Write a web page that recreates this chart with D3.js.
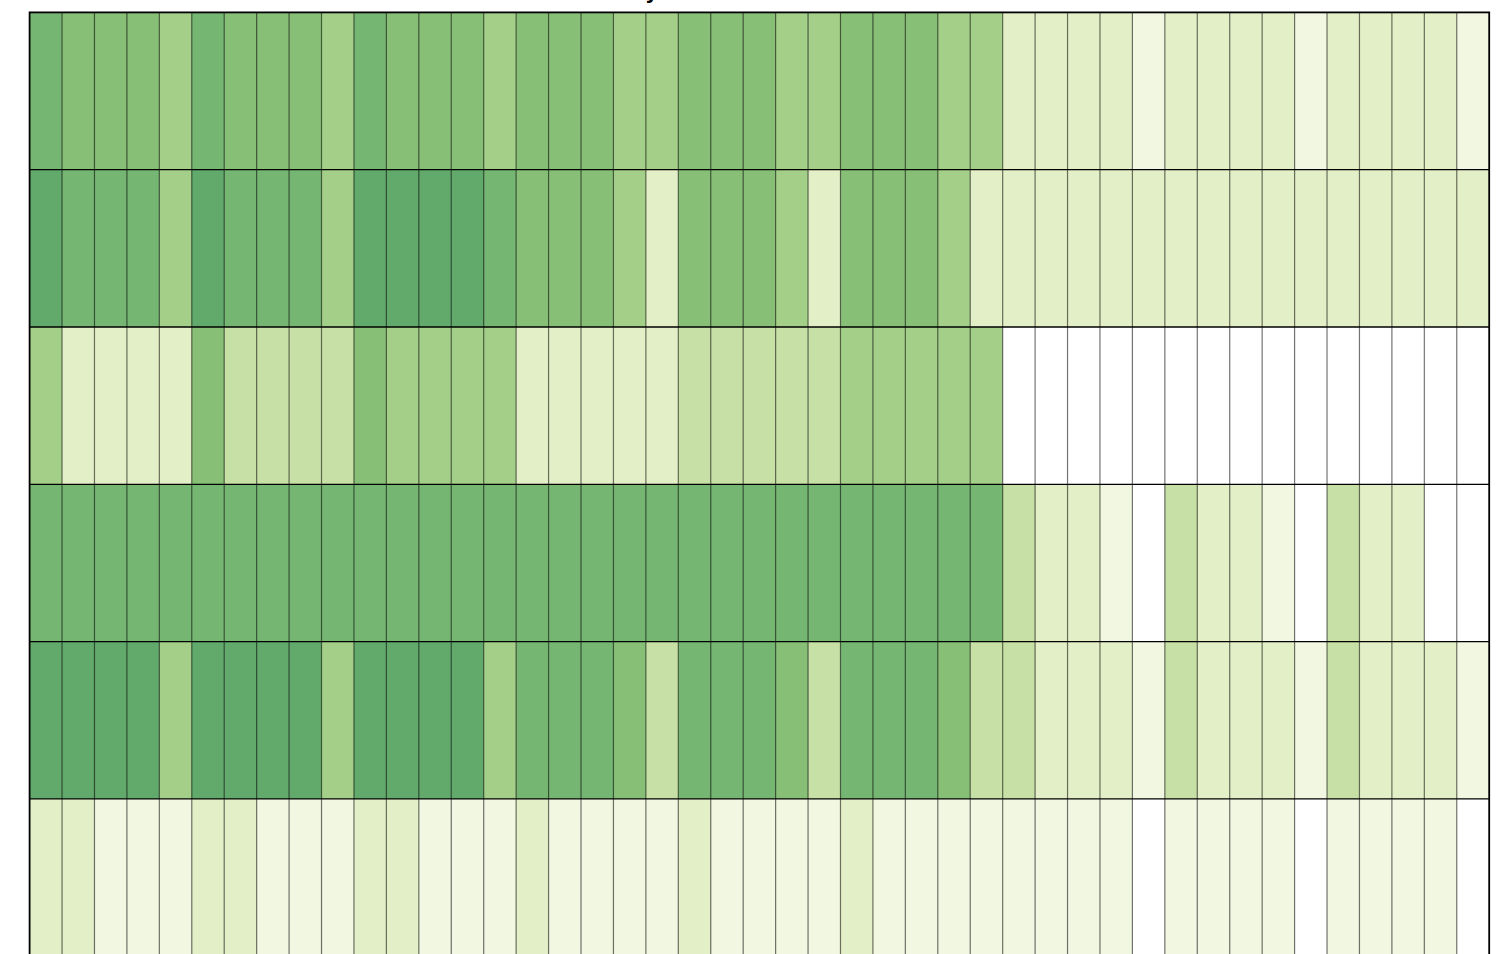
<!DOCTYPE html>
<html>
<head>
<meta charset="utf-8">
<script src="https://cdn.jsdelivr.net/npm/d3@7"></script>
<style>
  html, body { margin: 0; padding: 0; background: #fff; overflow: hidden; }
  svg { display: block; }
</style>
</head>
<body>
<svg width="1496" height="954"></svg>
<script>

const title = 'Daily Score Matrix for All Teams'

const rowNames = ['R1', 'R2', 'R3', 'R4', 'R5', 'R6']

// score level of every cell, one array per row, 45 columns each
const row1 = [6,5,5,5,4, 6,5,5,5,4, 6,5,5,5,4, 5,5,5,4,4, 5,5,5,4,4, 5,5,5,4,4, 2,2,2,2,1, 2,2,2,2,1, 2,2,2,2,1]
const row2 = [7,6,6,6,4, 7,6,6,6,4, 7,7,7,7,6, 5,5,5,4,2, 5,5,5,4,2, 5,5,5,4,2, 2,2,2,2,2, 2,2,2,2,2, 2,2,2,2,2]
const row3 = [4,2,2,2,2, 5,3,3,3,3, 5,4,4,4,4, 2,2,2,2,2, 3,3,3,3,3, 4,4,4,4,4, 0,0,0,0,0, 0,0,0,0,0, 0,0,0,0,0]
const row4 = [6,6,6,6,6, 6,6,6,6,6, 6,6,6,6,6, 6,6,6,6,6, 6,6,6,6,6, 6,6,6,6,6, 3,2,2,1,0, 3,2,2,1,0, 3,2,2,0,0]
const row5 = [7,7,7,7,4, 7,7,7,7,4, 7,7,7,7,4, 6,6,6,5,3, 6,6,6,5,3, 6,6,6,5,3, 3,2,2,2,1, 3,2,2,2,1, 3,2,2,2,1]
const row6 = [2,2,1,1,1, 2,2,1,1,1, 2,2,1,1,1, 2,1,1,1,1, 2,1,1,1,1, 2,1,1,1,1, 1,1,1,1,0, 1,1,1,1,0, 1,1,1,1,0]

const rows = [row1, row2, row3, row4, row5, row6]
const levels = [0, 1, 2, 3, 4, 5, 6, 7]
const levelColors = ['#ffffff', '#f1f7e1', '#e3efc6', '#c7e0a5', '#a4cf89', '#87bf77', '#76b673', '#62a96c']

const columns = d3.range(row1.length)

const svg = d3.select('svg')

const plotLeft = 29.6
const plotRight = 1489.2
const plotTop = 12.4
const rowHeight = 157.3
const plotBottom = plotTop + rowHeight * rowNames.length

const x = d3.scaleBand()
    .domain(columns)
    .range([plotLeft, plotRight])

const y = d3.scaleBand()
    .domain(rowNames)
    .range([plotTop, plotBottom])

const color = d3.scaleOrdinal()
    .domain(levels)
    .range(levelColors)

const cells = rows.flatMap((r, i) => r.map((v, j) => ({ row: rowNames[i], col: j, value: v })))

svg.append('g')
    .selectAll('rect')
    .data(cells)
    .join('rect')
        .attr('x', d => x(d.col))
        .attr('y', d => y(d.row))
        .attr('width', x.bandwidth() + 0.5)
        .attr('height', y.bandwidth() + 0.5)
        .attr('fill', d => color(d.value))

// column separators
svg.append('g')
    .selectAll('line')
    .data(columns.slice(1))
    .join('line')
        .attr('x1', d => x(d))
        .attr('x2', d => x(d))
        .attr('y1', plotTop)
        .attr('y2', plotBottom)
        .attr('stroke', '#000')
        .attr('stroke-opacity', 0.55)
        .attr('stroke-width', 1.2)

// row separators
svg.append('g')
    .selectAll('line')
    .data(rowNames.slice(1))
    .join('line')
        .attr('x1', plotLeft)
        .attr('x2', plotRight)
        .attr('y1', d => y(d))
        .attr('y2', d => y(d))
        .attr('stroke', '#000')
        .attr('stroke-width', 1.3)

svg.append('rect')
    .attr('x', plotLeft)
    .attr('y', plotTop)
    .attr('width', plotRight - plotLeft)
    .attr('height', plotBottom - plotTop)
    .attr('fill', 'none')
    .attr('stroke', '#000')
    .attr('stroke-width', 1.8)

// title sits above the visible area, only the descender shows
const titleText = svg.append('text')
    .attr('y', -1.5)
    .attr('font-family', 'DejaVu Sans, sans-serif')
    .attr('font-size', 20)
    .attr('font-weight', 'bold')
    .text(title)

const probe = svg.append('text')
    .attr('font-family', 'DejaVu Sans, sans-serif')
    .attr('font-size', 20)
    .attr('font-weight', 'bold')
    .text(title.slice(0, title.indexOf('y')))
const prefix = probe.node().getComputedTextLength()
probe.remove()

titleText.attr('x', 645 - prefix)

</script>
</body>
</html>
